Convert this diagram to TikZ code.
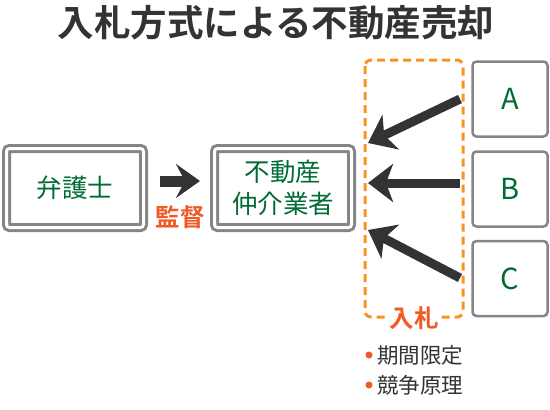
\documentclass[tikz,border=0pt]{standalone}
\usepackage{fontspec}
\setmainfont{Noto Sans CJK JP}
\newfontfamily\jpb{Noto Sans CJK JP Bold}
\usetikzlibrary{arrows.meta}
\definecolor{dgreen}{HTML}{006B35}
\definecolor{dgray}{HTML}{333333}
\definecolor{bgray}{HTML}{858585}
\definecolor{orangeT}{HTML}{F15A24}
\definecolor{orangeD}{HTML}{F7931E}
\tikzset{
  dbox/.style={draw=bgray, line width=3pt, double=white, double distance=3pt, rounded corners=3pt,
    minimum width=137pt, minimum height=79pt, text=dgreen, font=\fontsize{25.5}{32}\selectfont, align=center, inner sep=0pt},
  lbox/.style={draw=bgray, line width=2.5pt, rounded corners=4pt, minimum width=75pt, minimum height=75pt,
    text=dgreen, font=\fontsize{29}{30}\selectfont, inner sep=0pt},
  bigarrow/.style={draw=dgray, line width=9pt, -{Stealth[length=25pt,width=38pt,inset=7pt]}},
  orlabel/.style={text=orangeT, font=\jpb\fontsize{24.5}{26}\selectfont, inner sep=1pt},
  bullet/.style={text=dgray, font=\fontsize{21.5}{24}\selectfont, anchor=west, inner sep=0pt}
}
\begin{document}
\begin{tikzpicture}[x=1pt,y=-1pt]
\useasboundingbox (0,0) rectangle (550,410);
\node[text=dgray, font=\jpb\fontsize{36.5}{40}\selectfont] (title) at (276,23) {入札方式による不動産売却};
\node[dbox] (lawyer) at (75,188) {弁護士};
\node[dbox] (agent) at (283,188) {不動産\\仲介業者};
\draw[draw=orangeD, line width=3pt, dash pattern=on 8pt off 5pt, rounded corners=6pt] (365,60) rectangle (463,317);
\node[lbox] (A) at (510,99) {A};
\node[lbox] (B) at (510,189) {B};
\node[lbox] (C) at (510,278.5) {C};
\coordinate (a0) at (460,99);
\coordinate (a1) at (368,143);
\coordinate (b0) at (460,183);
\coordinate (b1) at (368,183);
\coordinate (c0) at (460,278);
\coordinate (c1) at (368,230);
\draw[bigarrow] (a0) -- (a1);
\draw[bigarrow] (b0) -- (b1);
\draw[bigarrow] (c0) -- (c1);
\coordinate (m0) at (160,181);
\coordinate (m1) at (200,181);
\draw[draw=dgray, line width=11pt, -{Stealth[length=24pt,width=34pt,inset=9pt]}] (m0) -- (m1);
\node[orlabel] (sup) at (180,217) {監督};
\node[orlabel, fill=white] (bid) at (414,318) {入札};
\node[bullet] (p1) at (377,355) {期間限定};
\node[bullet] (p2) at (377,385) {競争原理};
\fill[orangeT] (369,355) circle (3.5pt);
\fill[orangeT] (369,385) circle (3.5pt);
\end{tikzpicture}
\end{document}
